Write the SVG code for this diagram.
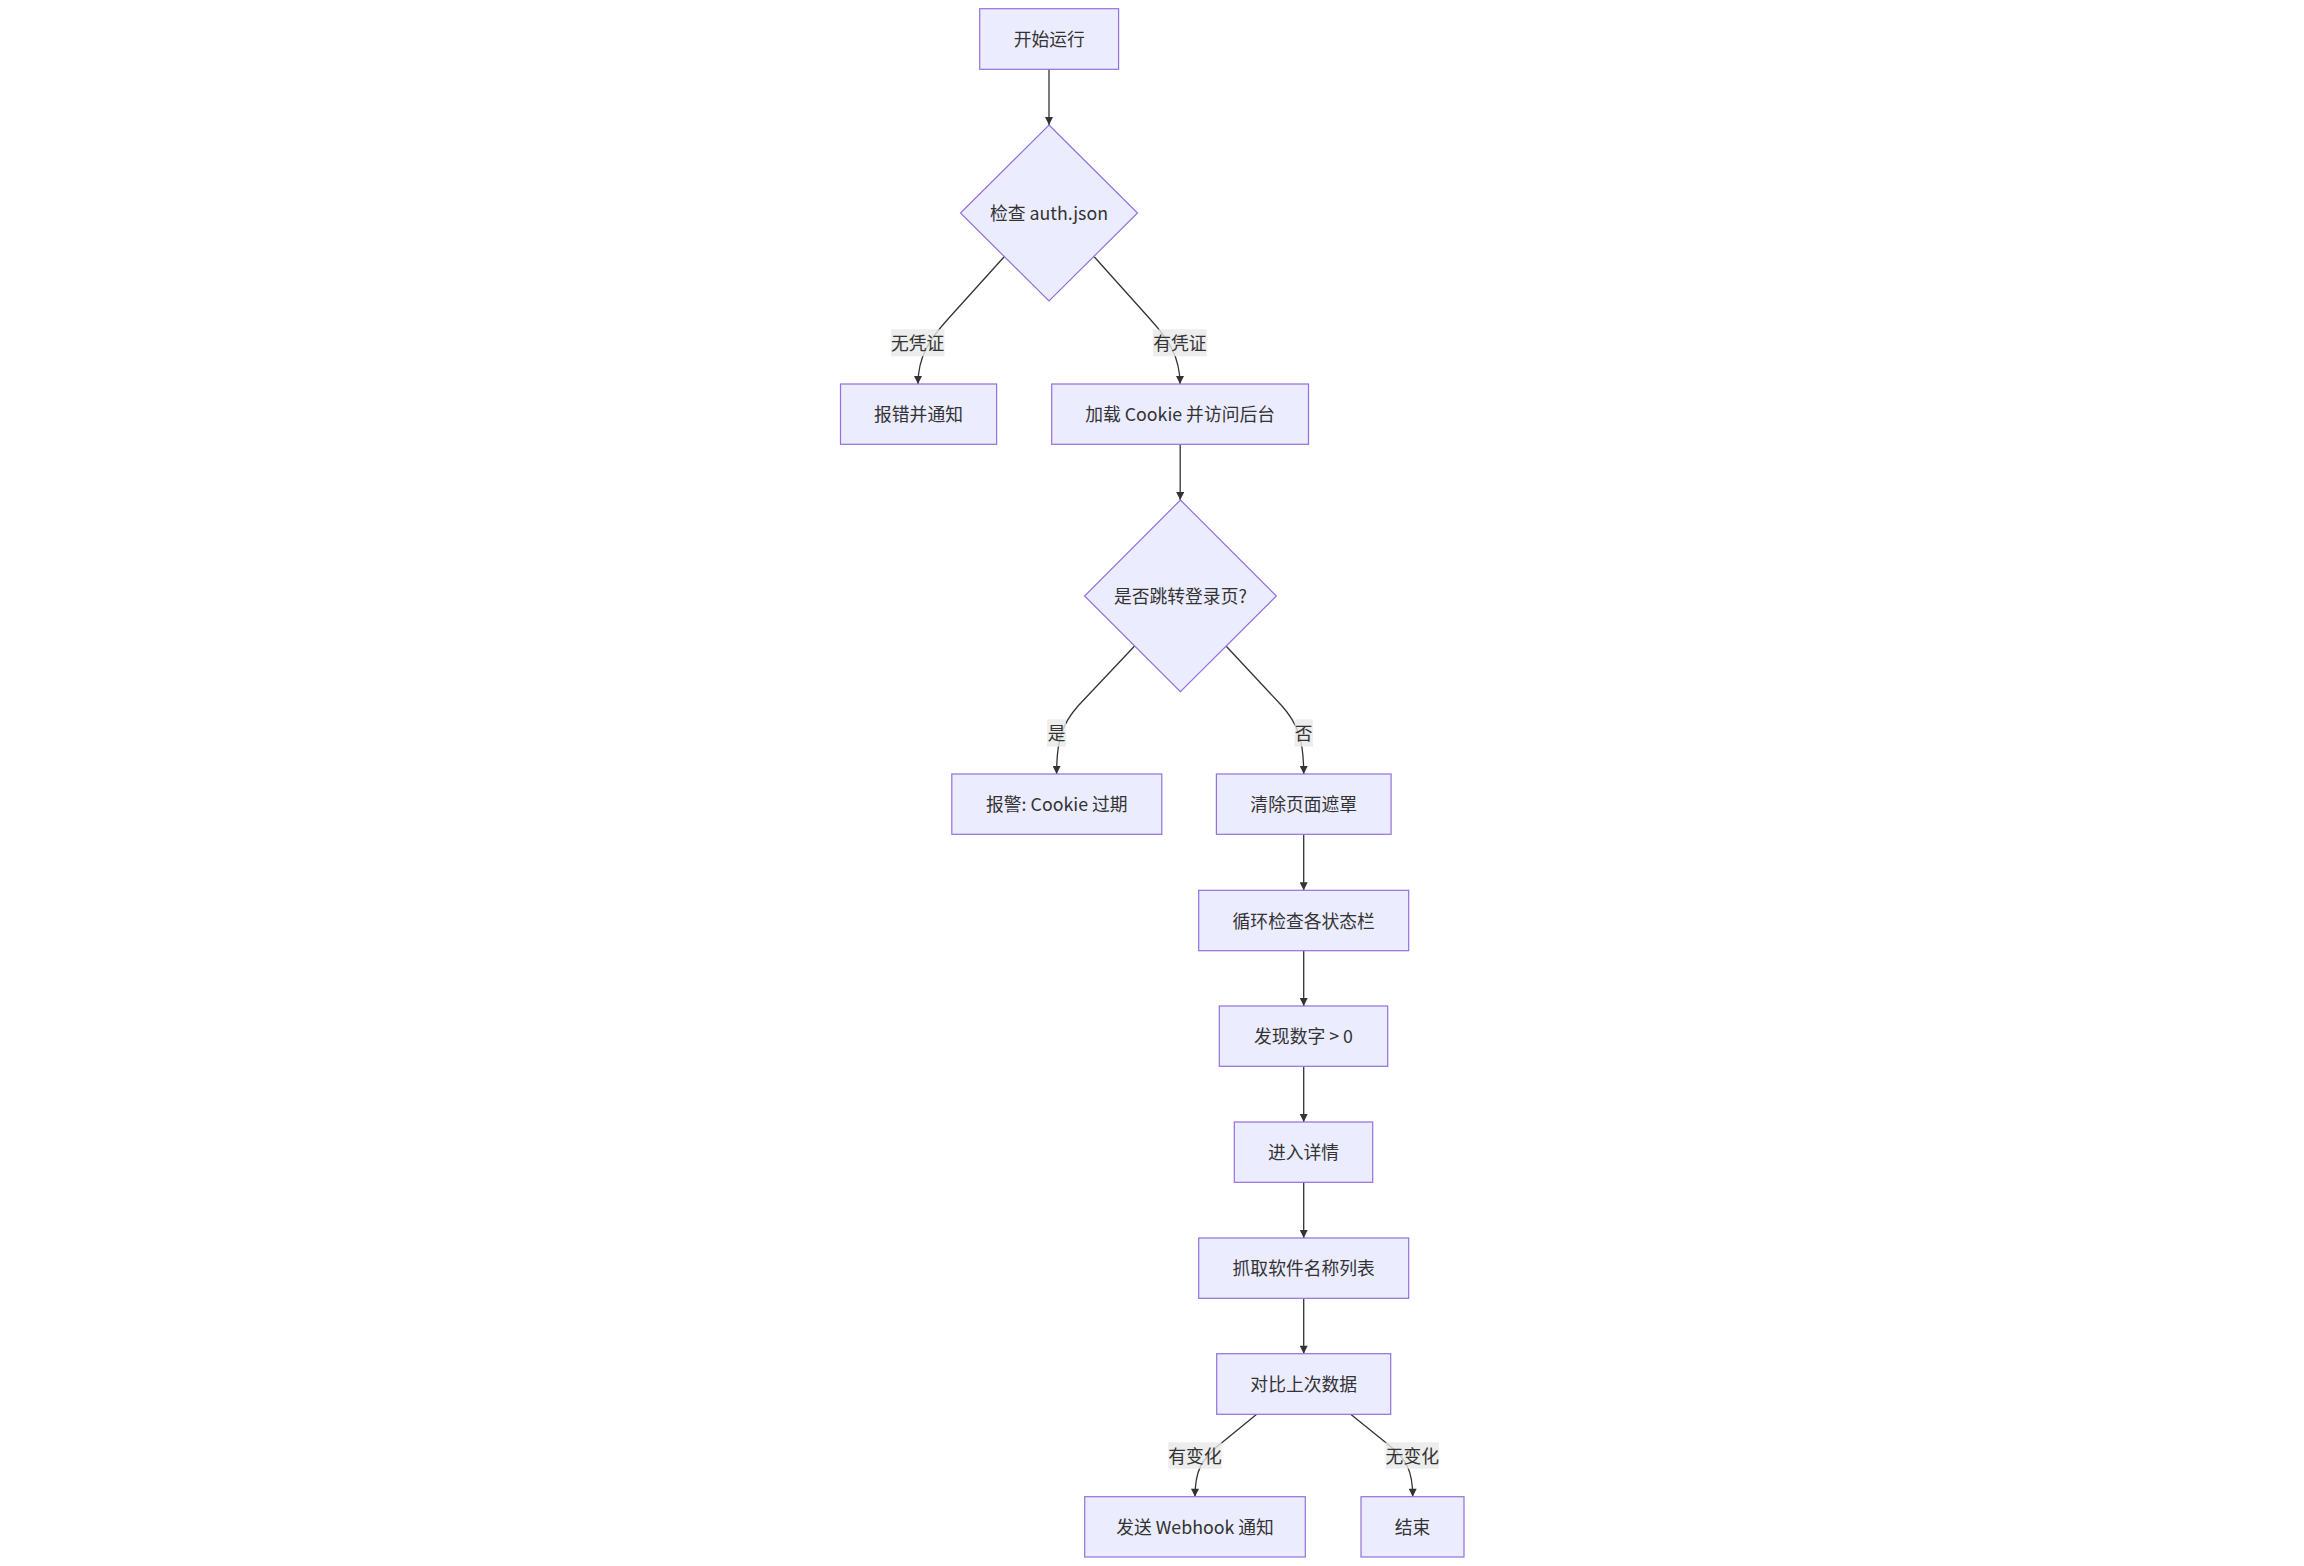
<svg xmlns="http://www.w3.org/2000/svg" width="2304" height="1566" viewBox="0 0 2304 1566">
<style>
.node rect,.node polygon{fill:#ECECFF;stroke:#9370DB;stroke-width:1.2}
.t{font-family:"Noto Sans CJK SC","Liberation Sans",sans-serif;font-size:17.8px;fill:#333;text-anchor:middle;dominant-baseline:central}
.edge{fill:none;stroke:#333;stroke-width:1.3}
.lbl rect{fill:#e8e8e8;fill-opacity:0.8}
</style>
<defs>
<marker id="arr" viewBox="0 0 10 10" refX="10" refY="5" markerUnits="userSpaceOnUse" markerWidth="9.5" markerHeight="8" orient="auto">
<path d="M0,0 L10,5 L0,10 z" fill="#333"/>
</marker>
</defs>
<rect width="2304" height="1566" fill="#fff"/>
<g id="connectors">
<path class="edge" marker-end="url(#arr)" d="M1049,69.3 L1049,125"/>
<path class="edge" marker-end="url(#arr)" d="M1004.2,256.7 L948,319 C930,339 918,356 918,384"/>
<path class="edge" marker-end="url(#arr)" d="M1094.2,256.7 L1150,319 C1168,339 1180,356 1180,384"/>
<path class="edge" marker-end="url(#arr)" d="M1180.2,444.3 L1180.2,500"/>
<path class="edge" marker-end="url(#arr)" d="M1134.6,646 L1078,706 C1062,724 1056.6,740 1056.6,774"/>
<path class="edge" marker-end="url(#arr)" d="M1226,646 L1282,706 C1298,724 1303.7,740 1303.7,774"/>
<path class="edge" marker-end="url(#arr)" d="M1303.7,834.3 L1303.7,890.3"/>
<path class="edge" marker-end="url(#arr)" d="M1303.7,950.7 L1303.7,1006"/>
<path class="edge" marker-end="url(#arr)" d="M1303.7,1066.3 L1303.7,1122"/>
<path class="edge" marker-end="url(#arr)" d="M1303.7,1182.3 L1303.7,1238"/>
<path class="edge" marker-end="url(#arr)" d="M1303.7,1298.3 L1303.7,1353.7"/>
<path class="edge" marker-end="url(#arr)" d="M1256.7,1414.3 L1219,1445 C1202,1459 1195,1470 1195,1496.7"/>
<path class="edge" marker-end="url(#arr)" d="M1350.7,1414.3 L1390,1446 C1406,1459 1412.7,1470 1412.7,1496.7"/>
</g>
<g id="edge-labels">
<g class="lbl"><rect x="891" y="329.3" width="53.5" height="27"/><text class="t" x="917.7" y="341.8">无凭证</text></g>
<g class="lbl"><rect x="1153.1" y="329.3" width="53.6" height="27"/><text class="t" x="1179.9" y="341.8">有凭证</text></g>
<g class="lbl"><rect x="1047.1" y="719.3" width="18.9" height="27.4"/><text class="t" x="1056.6" y="732">是</text></g>
<g class="lbl"><rect x="1294.6" y="719.3" width="18.3" height="27.4"/><text class="t" x="1303.7" y="732">否</text></g>
<g class="lbl"><rect x="1168.3" y="1442.3" width="53.4" height="26.4"/><text class="t" x="1195" y="1454.5">有变化</text></g>
<g class="lbl"><rect x="1385.7" y="1442.3" width="53.3" height="26.4"/><text class="t" x="1412.3" y="1454.5">无变化</text></g>
</g>
<g id="start" class="node"><rect x="979.7" y="8.7" width="138.9" height="60.6"/><text class="t" x="1049.2" y="38">开始运行</text></g>
<g id="checkAuth" class="node"><polygon points="1049,125 1137.5,213 1049,301 960.5,213"/><text class="t" x="1049" y="212">检查 auth.json</text></g>
<g id="errNotify" class="node"><rect x="840.5" y="384" width="156.1" height="60.3"/><text class="t" x="918.5" y="413.2">报错并通知</text></g>
<g id="loadCookie" class="node"><rect x="1051.7" y="384" width="256.8" height="60.3"/><text class="t" x="1180.1" y="413.2">加载 Cookie 并访问后台</text></g>
<g id="checkLogin" class="node"><polygon points="1180.4,500 1276.4,596 1180.4,691.7 1084.6,596"/><text class="t" x="1180.4" y="595">是否跳转登录页?</text></g>
<g id="alarm" class="node"><rect x="951.8" y="774" width="210" height="60.3"/><text class="t" x="1056.8" y="803.2">报警: Cookie 过期</text></g>
<g id="clearMask" class="node"><rect x="1216.4" y="774" width="174.7" height="60.3"/><text class="t" x="1303.7" y="803.2">清除页面遮罩</text></g>
<g id="loopCheck" class="node"><rect x="1198.7" y="890.3" width="210" height="60.4"/><text class="t" x="1303.7" y="919.5">循环检查各状态栏</text></g>
<g id="foundNum" class="node"><rect x="1219.3" y="1006" width="168.4" height="60.3"/><text class="t" x="1303.5" y="1035.2">发现数字 &gt; 0</text></g>
<g id="enterDetail" class="node"><rect x="1234.3" y="1122" width="138.4" height="60.3"/><text class="t" x="1303.5" y="1151.2">进入详情</text></g>
<g id="grabList" class="node"><rect x="1198.7" y="1238" width="210" height="60.3"/><text class="t" x="1303.7" y="1267.2">抓取软件名称列表</text></g>
<g id="compare" class="node"><rect x="1216.7" y="1353.7" width="174" height="60.6"/><text class="t" x="1303.7" y="1383">对比上次数据</text></g>
<g id="sendWebhook" class="node"><rect x="1084.7" y="1496.7" width="220.6" height="60.3"/><text class="t" x="1195" y="1525.8">发送 Webhook 通知</text></g>
<g id="end" class="node"><rect x="1361" y="1496.7" width="103" height="60.3"/><text class="t" x="1412.5" y="1525.8">结束</text></g>
</svg>
